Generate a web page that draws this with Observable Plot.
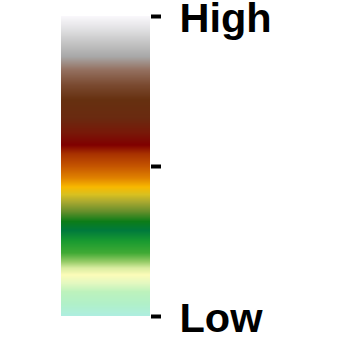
<!DOCTYPE html>
<html>
<head>
<meta charset="utf-8">
<script src="https://cdn.jsdelivr.net/npm/d3@7"></script>
<script src="https://cdn.jsdelivr.net/npm/@observablehq/plot@0.6"></script>
<style>
  html, body { margin: 0; padding: 0; background: #fff; }
</style>
</head>
<body>
<div id="chart"></div>
<script>
// Colormap stops (0 = Low, 1 = High)
const stops = [0.00, 0.04, 0.08, 0.11, 0.137, 0.16, 0.18, 0.21, 0.25, 0.285, 0.315, 0.35, 0.38, 0.405, 0.43, 0.46, 0.50, 0.54, 0.57, 0.61, 0.66, 0.72, 0.77, 0.82, 0.865, 0.91, 0.955, 1.00];
const stopColors = ["#aeeee0", "#b0f0c8", "#bcf2bc", "#e4f8c0", "#fcfcb8", "#d8eca0", "#98cc68", "#40aa34", "#189a30", "#007a3c", "#0c7c18", "#6a902c", "#a8a830", "#d8c020", "#f8b800", "#e08200", "#c45400", "#a83200", "#800000", "#781808", "#6a2a10", "#663010", "#7a4a30", "#947060", "#a8a8a8", "#c4c4c4", "#e0e0e2", "#faf8fc"];
const tickValues = [0, 0.5, 1];
const tickLabels = ["Low", "", "High"];

const N = 300;
const slices = d3.range(N).map(i => ({v0: i / N, v1: (i + 1) / N, mid: (i + 0.5) / N}));

const chart = Plot.plot({
  width: 348,
  height: 339,
  marginTop: 16,
  marginBottom: 23,
  marginLeft: 61,
  marginRight: 198,
  style: {background: "#fff", fontFamily: "'Liberation Sans', Arial, sans-serif", overflow: "visible"},
  x: {domain: [0, 1], axis: null},
  y: {domain: [0, 1]},
  color: {type: "linear", domain: stops, range: stopColors, interpolate: "rgb"},
  marks: [
    Plot.rect(slices, {x1: 0, x2: 1, y1: "v0", y2: "v1", fill: "mid", shapeRendering: "crispEdges", inset: -0.3}),
    // tick marks
    Plot.axisY({
      anchor: "right",
      ticks: tickValues,
      tickFormat: () => "",
      tickSize: 10,
      strokeWidth: 4,
      label: null
    }),
    // tick labels
    Plot.axisY({
      anchor: "right",
      ticks: tickValues,
      tickFormat: d => tickLabels[tickValues.indexOf(d)],
      tickSize: 0,
      tickPadding: 29,
      fontSize: 41.5,
      fontWeight: "bold",
      dy: 2.5,
      label: null
    })
  ]
});
document.getElementById("chart").append(chart);
</script>
</body>
</html>
